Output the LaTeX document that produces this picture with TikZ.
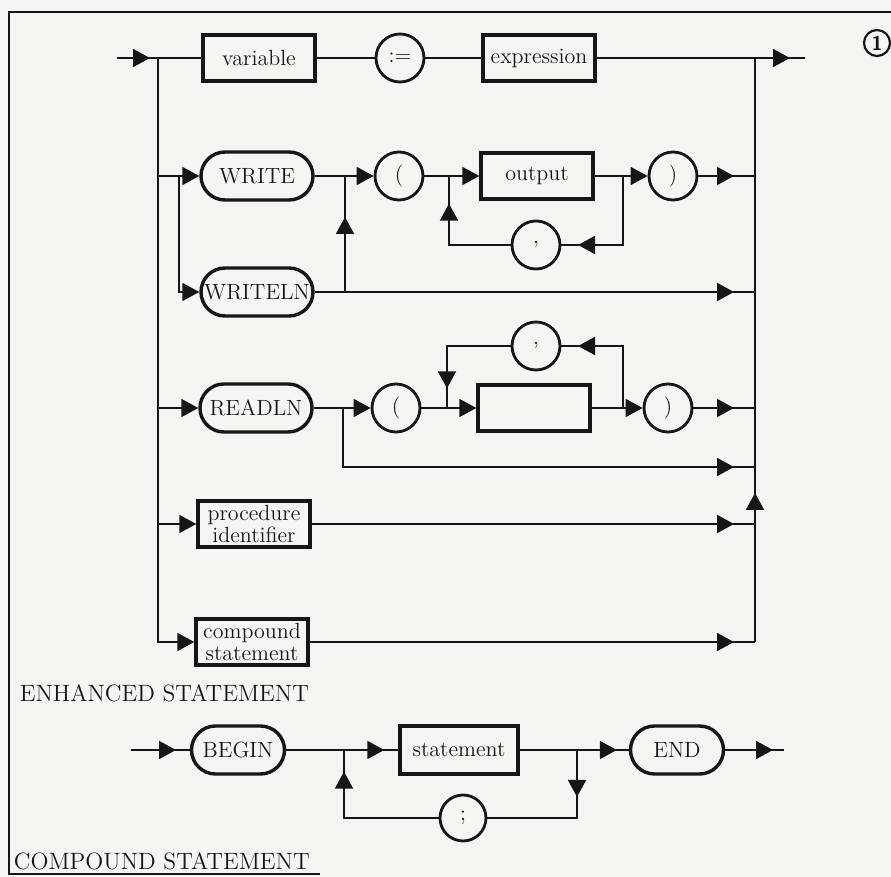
\documentclass[tikz,border=0pt]{standalone}
\usetikzlibrary{arrows.meta,decorations.markings}

\definecolor{paper}{RGB}{245,245,242}
\definecolor{ink}{RGB}{22,22,22}

\tikzset{
  tri/.style={-{Triangle[length=8.5pt,width=9pt]}},
  arrowat/.style={postaction={decorate},decoration={markings,mark=at position #1 with {\arrow{Triangle[length=8.5pt,width=9pt]}}}},
  box/.style={draw,line width=1.7pt,minimum width=56pt,minimum height=23pt,inner sep=1pt,align=center,font=\fontsize{11}{11}\selectfont},
  pill/.style={draw,line width=1.7pt,rounded corners=12pt,minimum width=56pt,minimum height=24pt,inner xsep=0pt,font=\fontsize{11}{13}\selectfont},
  sym/.style={draw,circle,line width=1.4pt,minimum size=24pt,inner sep=0pt,font=\fontsize{11}{13}\selectfont},
  heading/.style={anchor=base west,inner sep=0pt,font=\fontsize{11.8}{14}\selectfont}
}

\begin{document}
\begin{tikzpicture}[x=0.5pt,y=-0.5pt,line width=0.9pt,color=ink]
\fill[paper] (0,0) rectangle (891,877);
\useasboundingbox (0,0) rectangle (891,877);
\draw[line width=1pt] (891,12) -- (9,12) -- (9,874) -- (320,874);
\node[draw,circle,line width=1.1pt,minimum size=13pt,inner sep=0pt,font=\sffamily\bfseries\fontsize{10}{10}\selectfont] (num) at (877,43) {1};

% enhanced statement
\node[box] (variable) at (259,58) {variable};
\node[sym] (assign) at (400,58) {:=};
\node[box] (expression) at (539,58) {expression};

\node[pill] (write) at (257,176) {WRITE};
\node[pill] (writeln) at (257,292) {WRITELN};
\node[sym] (lparA) at (399,176) {(};
\node[box] (output) at (537,176) {output};
\node[sym] (rparA) at (673,176) {)};
\node[sym] (commaA) at (536,245) {,};

\node[pill] (readln) at (256,408) {READLN};
\node[sym] (lparB) at (396,408) {(};
\node[box] (argbox) at (534,408) {};
\node[sym] (rparB) at (668,408) {)};
\node[sym] (commaB) at (536,346) {,};

\node[box] (procid) at (254,524) {procedure\\identifier};
\node[box] (compound) at (252,642) {compound\\statement};

\coordinate (in) at (117,58);
\coordinate (split) at (158,58);
\coordinate (splitW) at (179,176);
\coordinate (merge) at (755,58);
\coordinate (mergeEnd) at (755,642);
\coordinate (out) at (805,58);
\coordinate (wj) at (345,176);
\coordinate (oj1) at (449,176);
\coordinate (oj2) at (623,176);
\coordinate (rj) at (343,408);
\coordinate (skip) at (755,467);
\coordinate (aj1) at (447,408);
\coordinate (aj2) at (623,408);

\draw[arrowat=16.5pt] (in) -- (variable);
\draw (variable) -- (assign) -- (expression);
\draw[arrowat=-7.5pt] (expression) -- (out);
\draw[tri] (split) |- (compound);
\draw[tri] (split |- write) -- (write);
\draw[tri] (splitW) |- (writeln);
\draw[tri] (split |- readln) -- (readln);
\draw[tri] (split |- procid) -- (procid);

\draw[tri] (write) -- (lparA);
\draw[arrowat=37.5pt] (wj |- writeln) -- (wj);
\draw[tri] (lparA) -- (output);
\draw[tri] (output) -- (rparA);
\draw[arrowat=57pt] (oj2) |- (commaA);
\draw[arrowat=51.5pt] (commaA) -| (oj1);

\draw[tri] (readln) -- (lparB);
\draw[arrowat=-10.5pt] (rj) |- (skip);
\draw[tri] (lparB) -- (argbox);
\draw[tri] (argbox) -- (rparB);
\draw[arrowat=53.5pt] (aj2) |- (commaB);
\draw[arrowat=53pt] (commaB) -| (aj1);

\draw[arrowat=-10.5pt] (rparA) -- (merge |- rparA);
\draw[arrowat=-10.5pt] (writeln) -- (merge |- writeln);
\draw[arrowat=-10.5pt] (rparB) -- (merge |- rparB);
\draw[arrowat=-10.5pt] (procid) -- (merge |- procid);
\draw[arrowat=-10.5pt] (compound) -- (mergeEnd);
\draw[arrowat=74.5pt] (mergeEnd) -- (merge);

\node[heading] (enhanced) at (19,702) {ENHANCED STATEMENT};

% compound statement
\node[pill,minimum width=46.5pt] (begin) at (238,750) {BEGIN};
\node[box,minimum width=59pt,minimum height=24pt] (statement) at (459,750) {statement};
\node[pill,minimum width=46.5pt] (endnode) at (677,750) {END};
\node[sym,minimum size=23pt] (semi) at (463,818) {;};

\coordinate (in2) at (131,750);
\coordinate (out2) at (784,750);
\coordinate (sj1) at (344,750);
\coordinate (sj2) at (577,750);

\draw[arrowat=22.5pt] (in2) -- (begin);
\draw[arrowat=-7pt] (begin) -- (statement);
\draw[arrowat=-6pt] (statement) -- (endnode);
\draw[arrowat=-5.5pt] (endnode) -- (out2);
\draw[arrowat=23.5pt] (sj2) |- (semi);
\draw[arrowat=70.5pt] (semi) -| (sj1);

\node[heading] (compoundtitle) at (13,870) {COMPOUND STATEMENT};
\end{tikzpicture}
\end{document}
